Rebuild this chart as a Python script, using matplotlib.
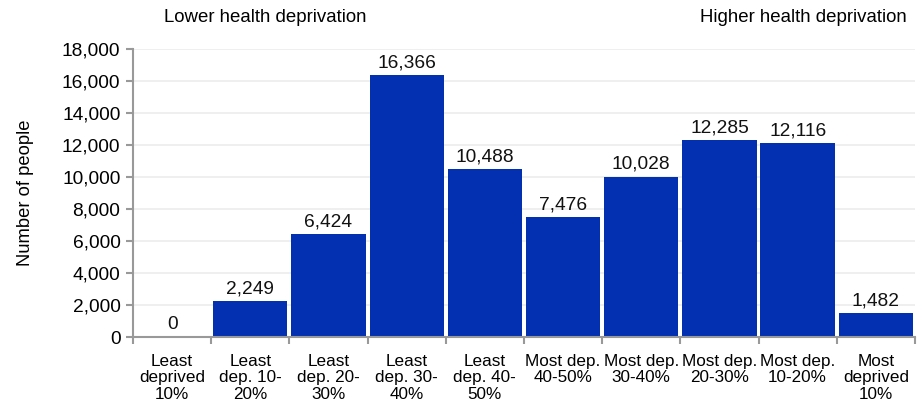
import numpy as np
import matplotlib.pyplot as plt

plt.rcParams['font.family'] = ['Liberation Sans', 'DejaVu Sans']

categories = ["Least\ndeprived\n10%", "Least\ndep. 10-\n20%", "Least\ndep. 20-\n30%",
              "Least\ndep. 30-\n40%", "Least\ndep. 40-\n50%", "Most dep.\n40-50%",
              "Most dep.\n30-40%", "Most dep.\n20-30%", "Most dep.\n10-20%",
              "Most\ndeprived\n10%"]
people = [0, 2249, 6424, 16366, 10488, 7476, 10028, 12285, 12116, 1482]

bar_color = '#0230B0'
axis_grey = '#999999'

fig = plt.figure(figsize=(9.21, 4.11), dpi=100)
ax = fig.add_axes([0.1444, 0.180, 0.849, 0.701])

x = np.arange(len(people))
ax.bar(x, people, width=0.95, color=bar_color, zorder=2)
for xi, v in zip(x, people):
    ax.text(xi, v + 250, f"{v:,}", ha='center', va='bottom', fontsize=13.8, color='#111111')

ax.set_xlim(-0.5, len(people) - 0.5)
ax.set_ylim(0, 18000)
ax.set_yticks(np.arange(0, 18001, 2000))
ax.set_yticklabels([f"{t:,}" for t in range(0, 18001, 2000)], fontsize=13.8)
ax.yaxis.grid(True, color='#ececec', linewidth=1.2, zorder=0)

ax.set_xticks(x)
ax.set_xticklabels(categories, fontsize=12.3, linespacing=1.15)
ax.set_xticks(np.arange(-0.5, len(people), 1), minor=True)
ax.tick_params(axis='x', which='major', length=0, pad=12)
ax.tick_params(axis='x', which='minor', length=5, width=1.5, color=axis_grey)
ax.tick_params(axis='y', length=5, width=1.5, color=axis_grey, pad=4)

for s in ['top', 'right']:
    ax.spines[s].set_visible(False)
for s in ['left', 'bottom']:
    ax.spines[s].set_color(axis_grey)
    ax.spines[s].set_linewidth(1.5)

ax.set_ylabel("Number of people", fontsize=13.2)
ax.yaxis.set_label_coords(-99 / 782, 0.5)

fig.text(265 / 921, 1 - 17 / 411, "Lower health deprivation", ha='center', va='center', fontsize=13.4)
fig.text(907 / 921, 1 - 17 / 411, "Higher health deprivation", ha='right', va='center', fontsize=13.4)

fig.savefig("out.png", dpi=100)
